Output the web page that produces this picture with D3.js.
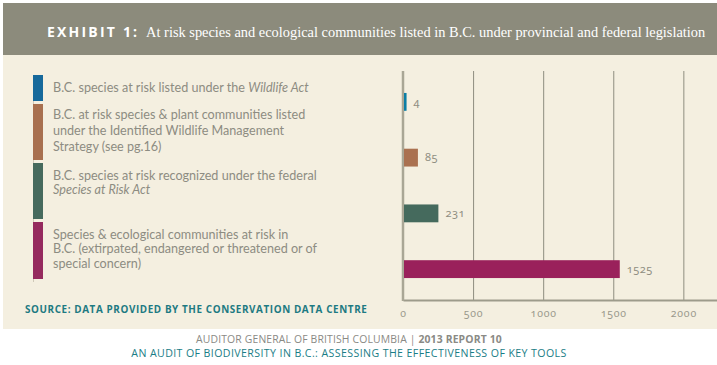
<!DOCTYPE html>
<html><head><meta charset="utf-8">
<script src="https://cdn.jsdelivr.net/npm/d3@7"></script>
<style>
html,body{margin:0;padding:0;background:#fff;}
svg{display:block;}
</style></head>
<body>
<svg id="chart" width="717" height="365"></svg>
<script>
const categories = ["wildlife", "iwms", "sara", "all"];
const values = [4, 85, 231, 1525];
const legendLines = [
  [[{t:"B.C. species at risk listed under the "},{t:"Wildlife Act",i:true}]],
  [[{t:"B.C. at risk species & plant communities listed"}],[{t:"under the Identified Wildlife Management"}],[{t:"Strategy (see pg.16)"}]],
  [[{t:"B.C. species at risk recognized under the federal"}],[{t:"Species at Risk Act",i:true}]],
  [[{t:"Species & ecological communities at risk in"}],[{t:"B.C. (extirpated, endangered or threatened or of"}],[{t:"special concern)"}]]
];
const barColors = ["#0b7ea5", "#aa7150", "#456a5d", "#9a215b"];
const swatchColors = ["#16699b", "#a8704f", "#466a5d", "#952a5e"];
const tickValues = [0, 500, 1000, 1500, 2000];
const titleBold = "EXHIBIT 1:";
const titleText = "At risk species and ecological communities listed in B.C. under provincial and federal legislation";
const sourceText = "SOURCE: DATA PROVIDED BY THE CONSERVATION DATA CENTRE";
const footer1a = "AUDITOR GENERAL OF BRITISH COLUMBIA | ";
const footer1b = "2013 REPORT 10";
const footer2 = "AN AUDIT OF BIODIVERSITY IN B.C.: ASSESSING THE EFFECTIVENESS OF KEY TOOLS";

const svg = d3.select("#chart");

// panels
svg.append("rect").attr("x",3).attr("y",55).attr("width",714).attr("height",274).attr("fill","#f4efe0");
svg.append("rect").attr("x",3).attr("y",3).attr("width",714).attr("height",52).attr("fill","#8c8b7c");

// title
const tt = svg.append("text").attr("x",47).attr("y",37).attr("fill","#fff");
tt.append("tspan").text(titleBold).attr("font-family","'Open Sans', sans-serif").attr("font-weight",700)
  .attr("font-size",14).attr("letter-spacing",2.2);
tt.append("tspan").text(" " + titleText).attr("dx",4).attr("font-family","'Liberation Serif', serif").attr("font-size",14.4);

// scales
const x = d3.scaleLinear().domain([0, 2240]).range([403, 717]);
const y = d3.scaleBand().domain(categories).range([74, 297]).paddingInner(0.68).paddingOuter(0.34);

// gridlines
const grid = svg.append("g").attr("transform","translate(0,300)")
  .call(d3.axisBottom(x).tickValues(tickValues.slice(1)).tickSize(-229).tickFormat(""));
grid.select(".domain").remove();
grid.selectAll(".tick line").attr("stroke","#8e8d7f").attr("stroke-width",1);

// bottom axis
const ax = svg.append("g").attr("transform","translate(0,300)")
  .call(d3.axisBottom(x).tickValues(tickValues).tickSize(0).tickPadding(10).tickFormat(d3.format("d")));
ax.select(".domain").attr("stroke","#9d9b8b").attr("stroke-width",2);
ax.selectAll(".tick text").attr("fill","#9a998c").attr("font-family","'Noto Sans', sans-serif")
  .attr("font-size",10.5).attr("letter-spacing",0.8).style("font-variant-numeric","oldstyle-nums");

// left axis line
svg.append("line").attr("x1",x(0)).attr("x2",x(0)).attr("y1",71).attr("y2",301)
  .attr("stroke","#a9a695").attr("stroke-width",2.5);

// bars
svg.append("g").selectAll("rect").data(values).join("rect")
  .attr("x", x(0)+1).attr("y",(d,i)=>y(categories[i]))
  .attr("width",d=>x(d)-x(0)-1 + 3).attr("height",y.bandwidth())
  .attr("fill",(d,i)=>barColors[i]);

svg.append("g").selectAll("text").data(values).join("text")
  .attr("x",d=>x(d)+10).attr("y",(d,i)=>y(categories[i])+y.bandwidth()/2).attr("dy","0.35em")
  .attr("fill","#8f8e82").attr("font-family","'Noto Sans', sans-serif").attr("font-size",11)
  .attr("letter-spacing",0.5).style("font-variant-numeric","oldstyle-nums")
  .text(d=>d);

// legend
const swY = [[75,101],[104,160],[163,219],[222,279]];
svg.append("line").attr("x1",33.5).attr("x2",33.5).attr("y1",75).attr("y2",282).attr("stroke","#cfc9b8").attr("stroke-width",1);
const lineStarts = [[92],[119,135,151],[180,194],[239,253,268]];
legendLines.forEach((lines,i)=>{
  svg.append("rect").attr("x",33).attr("y",swY[i][0]).attr("width",10).attr("height",swY[i][1]-swY[i][0]).attr("fill",swatchColors[i]);
  lines.forEach((parts,j)=>{
    const t = svg.append("text").attr("x",53).attr("y",lineStarts[i][j]).attr("fill","#8d8c82")
      .attr("font-family","Lato, sans-serif").attr("font-size",12.6);
    parts.forEach(p=>{ const s=t.append("tspan").text(p.t); if(p.i) s.attr("font-style","italic"); });
  });
});

// source
svg.append("text").attr("x",25).attr("y",313).attr("fill","#1d7a82").attr("font-family","'Open Sans', sans-serif")
  .attr("font-weight",700).attr("font-size",9.9).attr("letter-spacing",0.6).text(sourceText);

// footer
const f1 = svg.append("text").attr("x",349).attr("y",343).attr("text-anchor","middle")
  .attr("font-family","'Open Sans', sans-serif").attr("font-size",10.4).attr("fill","#8a8a85").attr("letter-spacing",0.15);
f1.append("tspan").text(footer1a);
f1.append("tspan").text(footer1b).attr("font-weight",700);
svg.append("text").attr("x",349).attr("y",357).attr("text-anchor","middle")
  .attr("font-family","'Open Sans', sans-serif").attr("font-size",10.6).attr("fill","#1a7d86").attr("letter-spacing",0.4)
  .text(footer2);
</script>
</body></html>
